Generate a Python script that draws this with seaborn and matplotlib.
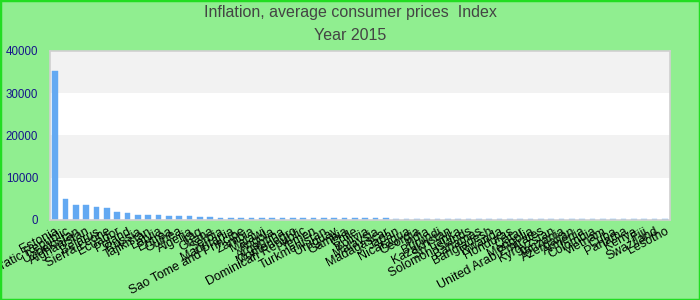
import matplotlib
matplotlib.use("Agg")
import matplotlib.pyplot as plt
import seaborn as sns
import pandas as pd
from matplotlib.patches import Rectangle

countries = [
    "Estonia", "Congo, Democratic Republic", "Uzbekistan", "Afghanistan", "Belarus",
    "Sierra Leone", "Ecuador", "Poland", "Russia", "Tajikistan",
    "Latvia", "Eritrea", "Guinea", "Algeria", "Iraq",
    "Ghana", "Serbia", "Mauritania", "Sao Tome and Principe", "Zambia",
    "Malawi", "Angola", "Argentina", "Montenegro", "Dominican Republic",
    "Yemen", "Turkmenistan", "Uruguay", "Gambia", "Chile",
    "Bolivia", "Malaysia", "Madagascar", "Japan", "Nicaragua",
    "Georgia", "India", "Burundi", "Kazakhstan", "Sri Lanka",
    "Solomon Islands", "Bahamas", "Bangladesh", "Rwanda", "Honduras",
    "Qatar", "Mongolia", "United Arab Emirates", "Kyrgyzstan", "Tanzania",
    "Azerbaijan", "Armenia", "Colombia", "Vietnam", "Cuba",
    "Panama", "Kenya", "Fiji", "Swaziland", "Lesotho",
]
values = [
    35300, 5050, 3650, 3450, 3000,
    2950, 1850, 1600, 1300, 1100,
    1100, 1050, 1050, 850, 600,
    600, 580, 450, 430, 420,
    410, 400, 400, 395, 390,
    385, 380, 380, 375, 370,
    370, 365, 360, 190, 185,
    180, 178, 175, 172, 170,
    168, 165, 162, 160, 158,
    155, 152, 150, 148, 146,
    144, 142, 140, 138, 136,
    134, 132, 130, 128, 125,
]
yticks = [0, 10000, 20000, 30000, 40000]
title_lines = ["Inflation, average consumer prices  Index", "Year 2015"]

df = pd.DataFrame({"country": countries, "value": values})

sns.set_style("white")
plt.rcParams["font.family"] = ["Liberation Sans", "DejaVu Sans"]

fig = plt.figure(figsize=(7, 3), dpi=100, facecolor="#90EE90")
ax = fig.add_axes([50 / 700, 1 - 220 / 300, 620 / 700, 169 / 300])
ax.set_facecolor("white")

# alternating bands
for i in range(len(yticks) - 1):
    if i % 2 == 1:
        ax.axhspan(yticks[i], yticks[i + 1], color="#F2F2F2", zorder=0, lw=0)

sns.barplot(data=df, x="country", y="value", color="#63A9F2", saturation=1,
            width=0.58, ax=ax, zorder=2, edgecolor="#63A9F2", linewidth=0.3)

ax.set_ylim(0, 40000)
ax.set_xlim(-0.5, len(countries) - 0.5)
ax.set_yticks(yticks)
ax.set_yticklabels([str(v) for v in yticks], color="#16168A", fontsize=8.3)
ax.set_xticks(range(len(countries)))
ax.set_xticklabels(countries, rotation=28, ha="right", rotation_mode="anchor",
                   fontsize=9, color="black")
ax.tick_params(axis="y", length=0, pad=8.5)
ax.tick_params(axis="x", length=0, pad=4)
ax.set_xlabel("")
ax.set_ylabel("")
for s in ax.spines.values():
    s.set_color("#D0D0D0")
    s.set_linewidth(1.2)

fig.text(0.5, 1 - 13 / 300, title_lines[0], ha="center", va="center",
         fontsize=11.5, color="#444444")
fig.text(0.5, 1 - 36 / 300, title_lines[1], ha="center", va="center",
         fontsize=11.5, color="#444444")

fig.patches.append(Rectangle((0, 0), 1, 1, transform=fig.transFigure,
                             fill=False, edgecolor="#22DD22", linewidth=2.5))

fig.savefig("out.png", dpi=100, facecolor=fig.get_facecolor())
